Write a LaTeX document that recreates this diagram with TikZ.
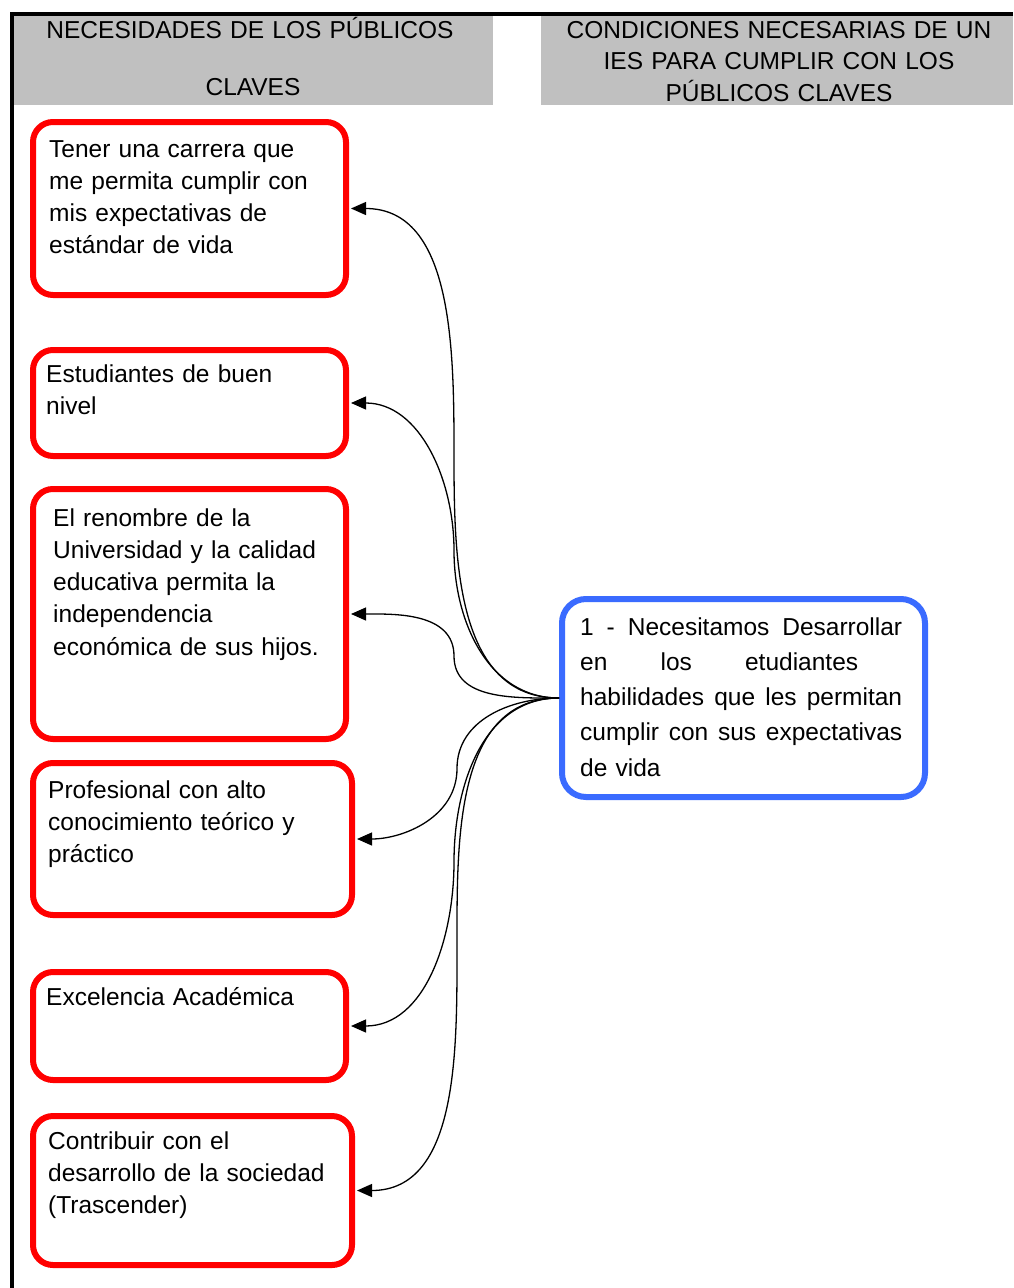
\documentclass[tikz,border=0pt]{standalone}
\usepackage{fontspec}
\setmainfont{Liberation Sans}
\usepackage{xcolor}
\definecolor{boxred}{HTML}{FF0000}
\definecolor{boxblue}{HTML}{3A6BFF}
\definecolor{hdrgray}{HTML}{C0C0C0}
\usetikzlibrary{arrows.meta,positioning,calc}
\tikzset{
  nb/.style={draw, anchor=north west, inner sep=0pt},
  nred/.style={nb, draw=boxred, line width=6pt, rounded corners=20pt},
  nblue/.style={nb, draw=boxblue, line width=6pt, rounded corners=24pt},
  ntxt/.style={anchor=base west, inner sep=0pt, align=left, text width=330pt,
               font=\fontsize{24.5}{32.3}\selectfont},
  nhdr/.style={anchor=base, inner sep=0pt, align=center, text width=470pt,
               font=\fontsize{24.5}{31.5}\selectfont},
  ar/.style={-{Triangle[length=15pt,width=13pt]}, draw=black, line width=1.3pt,
             shorten >=2pt},
}
% one justified line of the condition box
\newcommand{\jline}[2][322pt]{\leavevmode\hbox to #1{\spaceskip=6.8pt plus 1fil\relax #2}}

\begin{document}
\begin{tikzpicture}[x=1pt, y=-1pt]
  \useasboundingbox (0,0) rectangle (1013,1288);
  % table frame and headers
  \fill[hdrgray] (14,16) rectangle (493,105);
  \fill[hdrgray] (541,16) rectangle (1013,105);
  \draw[line width=4pt] (10,14) -- (1013,14);
  \draw[line width=4pt] (12,12) -- (12,1288);
  \node[nhdr] (hl1) at (250,38) {NECESIDADES DE LOS PÚBLICOS};
  \node[nhdr] (hl2) at (253,95) {CLAVES};
  \node[nhdr] (hr) at (779,38) {CONDICIONES NECESARIAS DE UN\\IES PARA CUMPLIR CON LOS\\PÚBLICOS CLAVES};

  % needs of the key publics
  \node[nred, minimum width=313pt, minimum height=173pt] (b1) at (30,119) {};
  \node[nred, minimum width=313pt, minimum height=106pt] (b2) at (30,347) {};
  \node[nred, minimum width=313pt, minimum height=250pt] (b3) at (30,486) {};
  \node[nred, minimum width=319pt, minimum height=152pt] (b4) at (30,760) {};
  \node[nred, minimum width=313pt, minimum height=108pt] (b5) at (30,969) {};
  \node[nred, minimum width=319pt, minimum height=149pt] (b6) at (30,1113) {};
  \node[ntxt] (t1) at (49,157) {Tener una carrera que\\me permita cumplir con\\mis expectativas de\\estándar de vida};
  \node[ntxt] (t2) at (46,382) {Estudiantes de buen\\nivel};
  \node[ntxt] (t3) at (53,526) {El renombre de la\\Universidad y la calidad\\educativa permita la\\independencia\\económica de sus hijos.};
  \node[ntxt] (t4) at (48,798) {Profesional con alto\\conocimiento teórico y\\práctico};
  \node[ntxt] (t5) at (46,1005) {Excelencia Académica};
  \node[ntxt] (t6) at (48,1149) {Contribuir con el\\desarrollo de la sociedad\\(Trascender)};

  % condition
  \node[nblue, minimum width=363pt, minimum height=198pt] (need) at (559,596) {};
  \node[ntxt, text width=322pt, font=\fontsize{24.5}{35.3}\selectfont] (tneed) at (580,635)
    {\jline{1 - Necesitamos Desarrollar}\\
     \jline[278pt]{en los etudiantes}\\
     \jline{habilidades que les permitan}\\
     \jline{cumplir con sus expectativas}\\
     de vida};

  \foreach \b/\i/\o in {b1/-90/90, b2/-90/90, b3/-90/90, b4/90/-90, b5/90/-90, b6/90/-90}
    \draw[ar] (need.west) to[out=180,in=\i] ($(need.west)!.5!(\b.east)$)
      to[out=\o,in=0] (\b.east);
\end{tikzpicture}
\end{document}
